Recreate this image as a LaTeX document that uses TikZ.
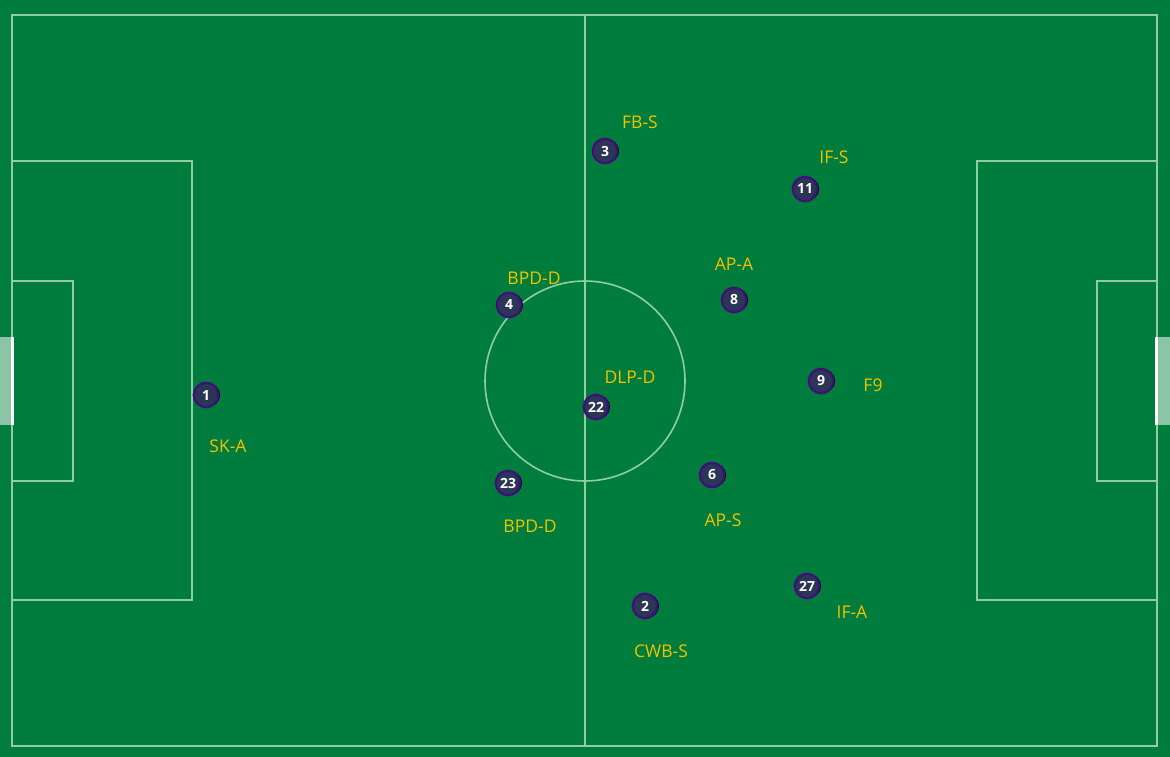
\documentclass[tikz,border=0pt]{standalone}
\usepackage{fontspec}
\setmainfont{Open Sans}
\definecolor{pitch}{HTML}{007D3C}
\definecolor{pline}{HTML}{8FCF9F}
\definecolor{goalfill}{HTML}{8CC5A5}
\definecolor{pfill}{HTML}{2B3556}
\definecolor{pborder}{HTML}{40107A}
\definecolor{role}{HTML}{F2C200}
\tikzset{
  pitchline/.style={draw=pline, line width=1.6pt},
  player/.style={circle, fill=pfill, draw=pborder, line width=2.2pt, minimum size=24.5pt, inner sep=0pt,
    text=white, font=\fontsize{14}{14}\selectfont\bfseries},
  rolelabel/.style={text=role, font=\fontsize{17.5}{17.5}\selectfont, inner sep=0pt},
}
\begin{document}
\begin{tikzpicture}[x=1pt,y=-1pt]
\fill[pitch] (0,0) rectangle (1170,757);
\useasboundingbox (0,0) rectangle (1170,757);
% pitch markings
\draw[pitchline] (12,15) rectangle (1157,746);
\draw[pitchline] (585,15) -- (585,746);
\draw[pitchline] (585,381) circle (100);
\draw[pitchline] (12,161) rectangle (192,600);
\draw[pitchline] (12,281) rectangle (73,481);
\draw[pitchline] (1157,161) rectangle (977,600);
\draw[pitchline] (1157,281) rectangle (1097,481);
% goals
\fill[goalfill] (0,337) rectangle (11,425);
\fill[white] (11,337) rectangle (14,425);
\fill[goalfill] (1158,337) rectangle (1170,425);
\fill[white] (1155,337) rectangle (1158,425);
% player shadows
\foreach \x/\y in {206/395, 605/151, 805/189, 509/305, 734/300, 596/407,
  821/381, 508/483, 712/475, 807/586, 645/606}{
  \fill[black] (\x+2,\y) circle (12);
}
\node[player] (p1) at (206,395) {1};
\node[player] (p3) at (605,151) {3};
\node[player] (p11) at (805,189) {11};
\node[player] (p4) at (509,305) {4};
\node[player] (p8) at (734,300) {8};
\node[player] (p22) at (596,407) {22};
\node[player] (p9) at (821,381) {9};
\node[player] (p23) at (508,483) {23};
\node[player] (p6) at (712,475) {6};
\node[player] (p27) at (807,586) {27};
\node[player] (p2) at (645,606) {2};
% role labels
\node[rolelabel] (l1) at (228,446) {SK-A};
\node[rolelabel] (l3) at (640,122) {FB-S};
\node[rolelabel] (l11) at (834,157) {IF-S};
\node[rolelabel] (l4) at (534,278) {BPD-D};
\node[rolelabel] (l8) at (734,264) {AP-A};
\node[rolelabel] (l22) at (630,377) {DLP-D};
\node[rolelabel] (l9) at (873,385) {F9};
\node[rolelabel] (l23) at (530,526) {BPD-D};
\node[rolelabel] (l6) at (723,520) {AP-S};
\node[rolelabel] (l27) at (852,612) {IF-A};
\node[rolelabel] (l2) at (661,651) {CWB-S};
\end{tikzpicture}
\end{document}
